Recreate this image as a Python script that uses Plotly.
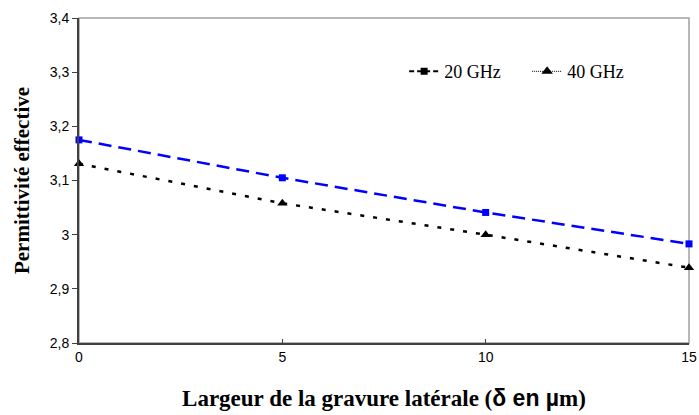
import plotly.graph_objects as go

x_vals = [0, 5, 10, 15]
y_20ghz = [3.175, 3.105, 3.041, 2.983]
y_40ghz = [3.131, 3.058, 3.000, 2.939]
series_names = ["20 GHz", "40 GHz"]
y_tickvals = [2.8, 2.9, 3.0, 3.1, 3.2, 3.3, 3.4]
y_ticktext = ["2,8", "2,9", "3", "3,1", "3,2", "3,3", "3,4"]
x_tickvals = [0, 5, 10, 15]

fig = go.Figure()
fig.add_trace(go.Scatter(x=x_vals, y=y_20ghz, mode="lines+markers", showlegend=False,
                         cliponaxis=False,
                         line=dict(color="#0000ff", width=2.5, dash="13px,7px"),
                         marker=dict(symbol="square", size=7, color="#0000ff")))
fig.add_trace(go.Scatter(x=x_vals, y=y_40ghz, mode="lines+markers", showlegend=False,
                         cliponaxis=False,
                         line=dict(color="#000000", width=2.5, dash="4px,9px"),
                         marker=dict(symbol="triangle-up", size=9, color="#000000")))
# legend entries (drawn in black as in the original)
fig.add_trace(go.Scatter(x=[None], y=[None], mode="lines+markers", name=series_names[0],
                         line=dict(color="#000000", width=2, dash="5px,3px"),
                         marker=dict(symbol="square", size=7, color="#000000")))
fig.add_trace(go.Scatter(x=[None], y=[None], mode="lines+markers", name=series_names[1],
                         line=dict(color="#000000", width=1, dash="1px,1px"),
                         marker=dict(symbol="triangle-up", size=10, color="#000000")))

fig.update_layout(
    width=699, height=415,
    margin=dict(l=79, r=10, t=18, b=72, autoexpand=False),
    paper_bgcolor="white", plot_bgcolor="white",
    separators=", ",
    font=dict(family="Liberation Sans, Arial", size=14, color="black"),
    legend=dict(orientation="h", x=0.533, y=0.835, xanchor="left", yanchor="middle",
                font=dict(family="Liberation Serif, Times New Roman", size=18),
                bgcolor="rgba(0,0,0,0)", entrywidth=78, entrywidthmode="pixels",
                tracegroupgap=0),
    xaxis=dict(range=[0, 15], tickvals=x_tickvals, ticks="inside", ticklen=4,
               tickcolor="#404040", showline=True, linecolor="#404040", linewidth=2,
               showgrid=False, zeroline=False,
               tickfont=dict(family="Liberation Sans, Arial", size=14),
               title=dict(text="<b>Largeur de la gravure latérale (</b><span style='font-family:Liberation Sans'><b>δ en µ</b></span><b>m)</b>",
                          font=dict(family="Liberation Serif, Times New Roman", size=23),
                          standoff=26)),
    yaxis=dict(range=[2.8, 3.4], tickvals=y_tickvals, ticktext=y_ticktext,
               ticks="outside", ticklen=5, tickcolor="#404040",
               showline=True, linecolor="#404040", linewidth=2,
               showgrid=False, zeroline=False,
               tickfont=dict(family="Liberation Sans, Arial", size=14),
               title=dict(text="<b>Permittivité effective</b>",
                          font=dict(family="Liberation Serif, Times New Roman", size=21),
                          standoff=14)),
    shapes=[dict(type="rect", xref="paper", yref="paper", x0=0, x1=1, y0=0, y1=1,
                 line=dict(color="#a0a0a0", width=1.5), layer="below")],
)

fig.write_html("out.html", config={"displayModeBar": False},
               post_script="document.body.style.margin='0px';")
